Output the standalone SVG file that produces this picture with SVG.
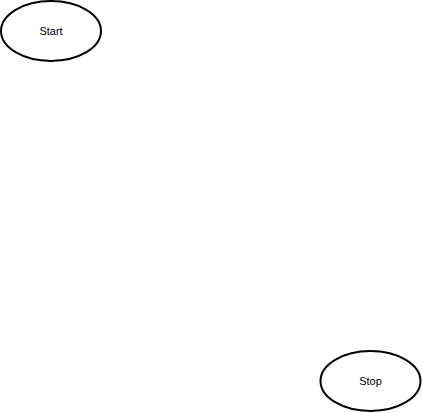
<svg xmlns="http://www.w3.org/2000/svg" width="422" height="413" viewBox="0 0 422 413">
<style>
.n{fill:#fff;stroke:#000;stroke-width:2}
.t{font-family:"Liberation Sans",Arial,sans-serif;font-size:11px;fill:#000;text-anchor:middle;dominant-baseline:central}
</style>
<rect width="422" height="413" fill="#fff"/>
<g id="connectors"></g>
<g id="start"><ellipse class="n" cx="51" cy="31" rx="50" ry="30"/><text class="t" x="51" y="31">Start</text></g>
<g id="stop"><ellipse class="n" cx="370.5" cy="381" rx="50" ry="30"/><text class="t" x="370.5" y="381">Stop</text></g>
</svg>
